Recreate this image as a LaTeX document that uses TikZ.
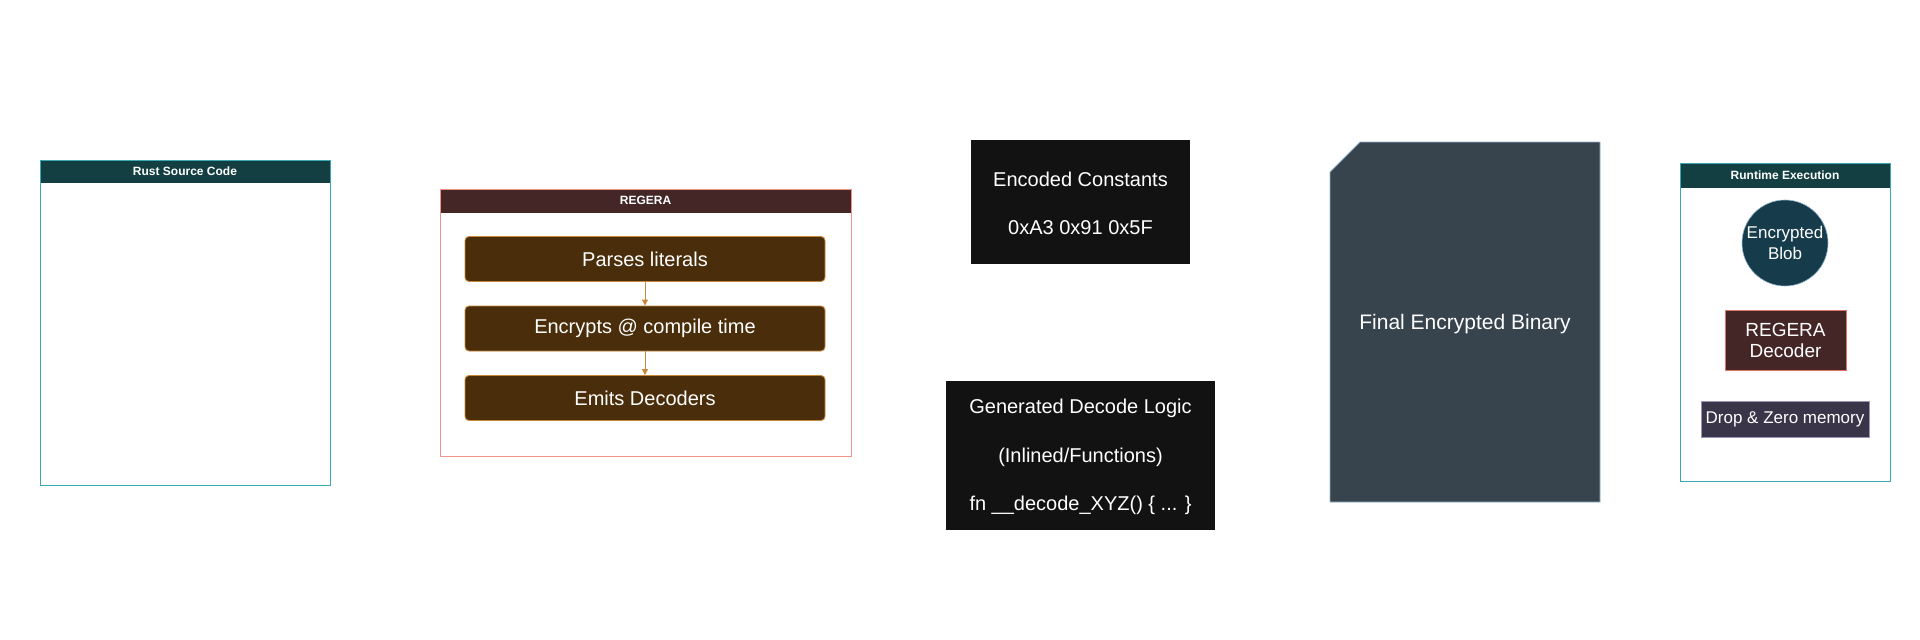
\documentclass[tikz,border=0pt]{standalone}
\usepackage{fontspec}
\setmainfont{Liberation Sans}
\usetikzlibrary{arrows.meta,positioning}
\definecolor{tealhead}{HTML}{133F42}
\definecolor{tealline}{HTML}{3AA8B0}
\definecolor{reghead}{HTML}{442626}
\definecolor{regline}{HTML}{F0948A}
\definecolor{stepfill}{HTML}{4A2D0A}
\definecolor{stepline}{HTML}{C8883A}
\definecolor{blackbox}{HTML}{121212}
\definecolor{binfill}{HTML}{37444E}
\definecolor{binline}{HTML}{94B4D0}
\definecolor{blobfill}{HTML}{163B4A}
\definecolor{decline}{HTML}{E0766A}
\definecolor{dropfill}{HTML}{3A3548}
\definecolor{dropline}{HTML}{9A94B8}
\tikzset{
  frame/.style={draw=#1, line width=0.9pt, fill=white},
  head/.style={draw=#1, line width=0.9pt, fill=#1},
  headtext/.style={text=white, font=\fontsize{12}{14}\selectfont\bfseries},
  stepbox/.style={draw=stepline, fill=stepfill, rounded corners=4pt, line width=0.9pt,
    minimum width=360pt, minimum height=45pt, text=white, font=\fontsize{20}{24}\selectfont},
  darkbox/.style={fill=blackbox, text=white, font=\fontsize{20}{24}\selectfont, align=center, inner sep=0pt},
  flowarrow/.style={draw=stepline, line width=0.9pt, -{Triangle[length=6pt,width=6pt]}},
}
\begin{document}
\begin{tikzpicture}[x=1pt,y=-1pt]
\useasboundingbox[fill=white] (0,0) rectangle (1920,640);

% Rust Source Code
\node[frame=tealline, minimum width=290pt, minimum height=325pt, inner sep=0pt] (rust) at (185,322.5) {};
\node[head=tealhead, minimum width=290pt, minimum height=22pt, inner sep=0pt] (rusthead) at (185,171) {};
\draw[tealline, line width=0.9pt] (40,160) rectangle (330,485);
\node[headtext] (rustlabel) at (185,171) {Rust Source Code};

% REGERA
\node[frame=regline, minimum width=411pt, minimum height=267pt, inner sep=0pt] (regera) at (645.5,322.5) {};
\node[head=reghead, minimum width=411pt, minimum height=23pt, inner sep=0pt] (reghead) at (645.5,200.5) {};
\draw[regline, line width=0.9pt] (440,189) rectangle (851,456);
\node[headtext] (reglabel) at (645.5,200.5) {REGERA};

\node[stepbox] (parse) at (645,259) {Parses literals};
\node[stepbox] (encrypt) at (645,328.5) {Encrypts @ compile time};
\node[stepbox] (emit) at (645,398) {Emits Decoders};
\draw[flowarrow] (parse) -- (encrypt);
\draw[flowarrow] (encrypt) -- (emit);

% Encoded Constants
\node[fill=blackbox, minimum width=219pt, minimum height=124pt, inner sep=0pt] (consts) at (1080.5,202) {};
\node[darkbox] (constsA) at (1080.5,179) {Encoded Constants};
\node[darkbox] (constsB) at (1080.5,228) {0xA3 0x91 0x5F};

% Generated Decode Logic
\node[fill=blackbox, minimum width=269pt, minimum height=149pt, inner sep=0pt] (logic) at (1080.5,455.5) {};
\node[darkbox] (logicA) at (1080.5,408) {Generated Decode Logic};
\node[darkbox] (logicB) at (1080.5,457) {(Inlined/Functions)};
\node[darkbox] (logicC) at (1080.5,505) {fn \_\_decode\_XYZ() \{ ... \}};

% Final Encrypted Binary
\draw[fill=binfill, draw=binline, line width=0.9pt]
  (1330,172) -- (1360,142) -- (1600,142) -- (1600,502) -- (1330,502) -- cycle;
\node[text=white, font=\fontsize{21}{25}\selectfont] (binary) at (1465,324) {Final Encrypted Binary};

% Runtime Execution
\node[frame=tealline, minimum width=210pt, minimum height=318pt, inner sep=0pt] (runtime) at (1785,322) {};
\node[head=tealhead, minimum width=210pt, minimum height=24pt, inner sep=0pt] (runhead) at (1785,175) {};
\draw[tealline, line width=0.9pt] (1680,163) rectangle (1890,481);
\node[headtext] (runlabel) at (1785,175) {Runtime Execution};

\node[circle, fill=blobfill, draw=binline, line width=0.6pt, minimum size=86pt, inner sep=0pt,
  text=white, align=center, font=\fontsize{17}{21}\selectfont] (blob) at (1785,243) {Encrypted\\Blob};
\node[fill=reghead, draw=decline, line width=0.9pt, minimum width=121pt, minimum height=60pt, inner sep=0pt,
  text=white, align=center, font=\fontsize{19}{21}\selectfont] (decoder) at (1785.5,340) {REGERA\\Decoder};
\node[fill=dropfill, draw=dropline, line width=0.9pt, minimum width=168pt, minimum height=36pt, inner sep=0pt,
  text=white, font=\fontsize{17}{20}\selectfont] (drop) at (1785,419) {Drop \& Zero memory};
\end{tikzpicture}
\end{document}
